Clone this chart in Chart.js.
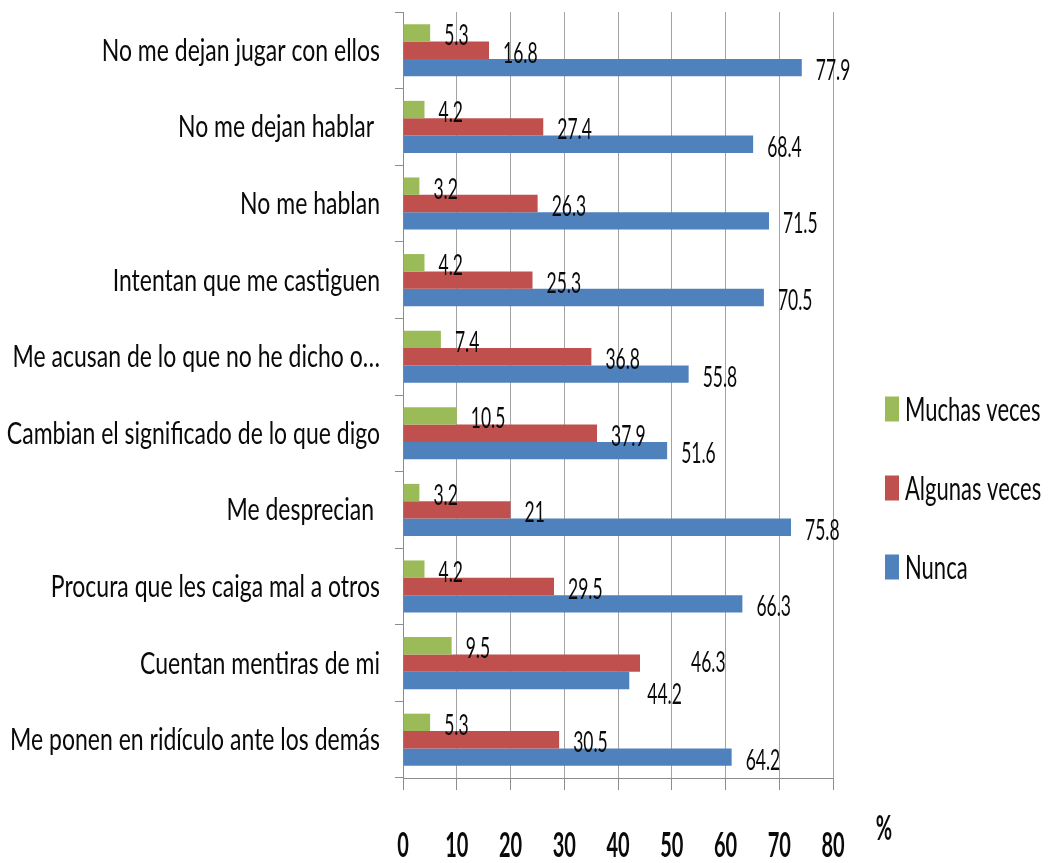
<!DOCTYPE html>
<html>
<head>
<meta charset="utf-8">
<script src="https://cdn.jsdelivr.net/npm/chart.js@4/dist/chart.umd.min.js"></script>
<style>
  html, body { margin: 0; padding: 0; background: #fff; }
  canvas { display: block; }
</style>
</head>
<body>
<canvas id="chart-bar" width="1054" height="863"></canvas>
<script>
// --- datos ---
const categories = [
    'No me dejan jugar con ellos',
    'No me dejan hablar ',
    'No me hablan',
    'Intentan que me castiguen',
    'Me acusan de lo que no he dicho o…',
    'Cambian el significado de lo que digo',
    'Me desprecian ',
    'Procura que les caiga mal a otros',
    'Cuentan mentiras de mi',
    'Me ponen en ridículo ante los demás'
];
const seriesNames = ['Muchas veces', 'Algunas veces', 'Nunca'];
const muchasVeces = [5.3, 4.2, 3.2, 4.2, 7.4, 10.5, 3.2, 4.2, 9.5, 5.3];
const algunasVeces = [16.8, 27.4, 26.3, 25.3, 36.8, 37.9, 21, 29.5, 46.3, 30.5];
const nunca = [77.9, 68.4, 71.5, 70.5, 55.8, 51.6, 75.8, 66.3, 44.2, 64.2];
const tickLabels = ['0', '10', '20', '30', '40', '50', '60', '70', '80'];
// en la imagen las líneas de la rejilla caen cada 10.5 unidades de los datos
const gridStep = 10.5;

const colors = {
    green: '#9BBB59',
    red: '#C0504D',
    blue: '#4F81BD',
    grid: '#a3a3a3',
    axis: '#8c8c8c',
    text: '#0a0a0a'
};

// etiquetas movidas a mano en el original ("serie-índice": [dx, dy])
const labelNudge = { '1-8': [37, -4], '2-8': [4, 11] };

// texto estirado en vertical, como en la imagen original
function drawText(ctx, text, x, y, size, sy, align, weight) {
    ctx.save();
    ctx.translate(x, y);
    ctx.scale(1, sy);
    ctx.font = (weight || 'normal') + ' ' + size + 'px Lato';
    ctx.fillStyle = colors.text;
    ctx.textAlign = align;
    ctx.textBaseline = 'alphabetic';
    ctx.fillText(text, 0, 0);
    ctx.restore();
}

const textPlugin = {
    id: 'textPlugin',
    afterDraw(chart) {
        const ctx = chart.ctx;
        const xs = chart.scales.x;
        const ys = chart.scales.y;

        // etiquetas de categoría
        categories.forEach((c, i) => {
            drawText(ctx, c, 380, ys.getPixelForValue(i) + 10.5, 23, 1.35, 'right');
        });

        // etiquetas de valores
        chart.data.datasets.forEach((ds, d) => {
            chart.getDatasetMeta(d).data.forEach((bar, i) => {
                const n = labelNudge[d + '-' + i] || [0, 0];
                drawText(ctx, String(ds.data[i]), bar.x + 14 + n[0], bar.y + 12.5 + n[1], 17.5, 1.6, 'left');
            });
        });

        // eje x
        xs.ticks.forEach((t, i) => {
            if (tickLabels[i] === undefined) return;
            drawText(ctx, tickLabels[i], xs.getPixelForValue(t.value), 857, 20, 1.75, 'center', 'bold');
        });
        drawText(ctx, '%', 884, 840, 20, 1.75, 'center', 'bold');

        // leyenda
        chart.data.datasets.forEach((ds, d) => {
            const cy = 409 + d * 79;
            ctx.fillStyle = ds.backgroundColor;
            ctx.fillRect(885, cy - 12.5, 14, 25);
            drawText(ctx, ds.label, 905, cy + 11.5, 22, 1.46, 'left');
        });
    }
};

new Chart(document.getElementById('chart-bar'), {
    type: 'bar',
    data: {
        labels: categories,
        datasets: [
            { label: seriesNames[0], data: muchasVeces, backgroundColor: colors.green },
            { label: seriesNames[1], data: algunasVeces, backgroundColor: colors.red },
            { label: seriesNames[2], data: nunca, backgroundColor: colors.blue }
        ]
    },
    options: {
        indexAxis: 'y',
        responsive: false,
        animation: false,
        categoryPercentage: 0.68,
        barPercentage: 1,
        layout: { padding: { left: 395, right: 221, top: 12, bottom: 73 } },
        plugins: {
            legend: { display: false },
            tooltip: { enabled: false }
        },
        scales: {
            x: {
                min: 0,
                max: gridStep * (tickLabels.length - 1),
                afterBuildTicks: s => { s.ticks = tickLabels.map((t, i) => ({ value: i * gridStep })); },
                afterFit: s => { s.height = 12; },
                ticks: { display: false },
                grid: { color: colors.grid, tickLength: 12, tickColor: colors.axis },
                border: { color: colors.axis }
            },
            y: {
                afterFit: s => { s.width = 8; },
                ticks: { display: false },
                grid: { offset: true, drawOnChartArea: false, tickLength: 8, color: colors.axis },
                border: { color: colors.axis }
            }
        }
    },
    plugins: [textPlugin]
});
</script>
</body>
</html>
